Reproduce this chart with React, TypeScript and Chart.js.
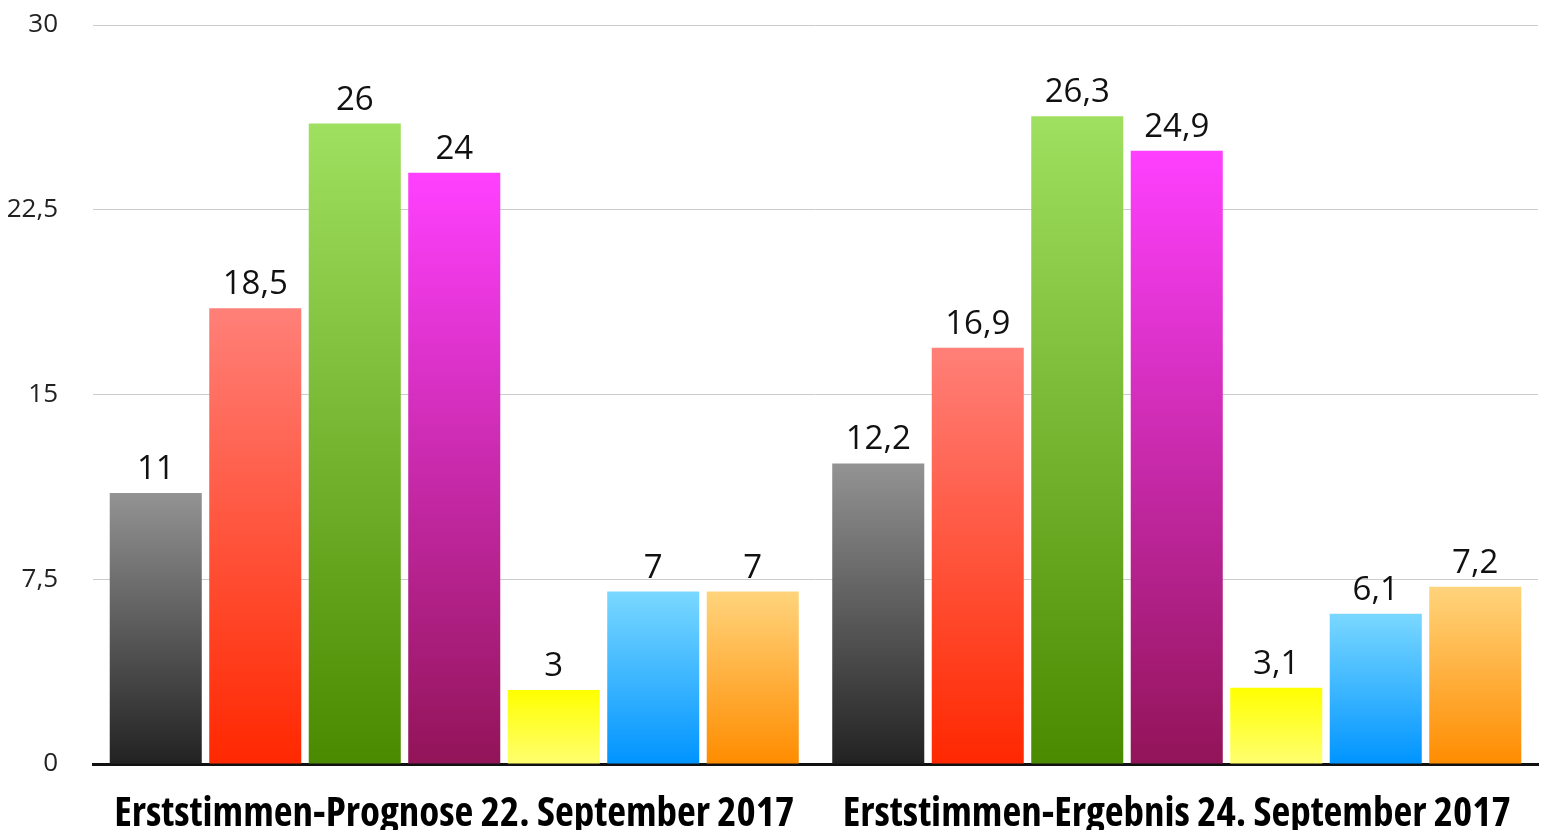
import React, { useEffect, useRef } from "react";
import { Chart, registerables } from "chart.js";

Chart.register(...registerables);

const categories = [
  "Erststimmen-Prognose 22. September 2017",
  "Erststimmen-Ergebnis 24. September 2017",
];
const seriesNames = ["CDU", "SPD", "Grüne", "Die Linke", "FDP", "AfD", "Andere"];
const seriesValues: number[][] = [
  [11, 12.2],
  [18.5, 16.9],
  [26, 26.3],
  [24, 24.9],
  [3, 3.1],
  [7, 6.1],
  [7, 7.2],
];
const gradientTop = ["#939393", "#ff8078", "#a0e060", "#ff40ff", "#ffff00", "#7ad8ff", "#ffd47c"];
const gradientBottom = ["#222222", "#ff2800", "#4a8a00", "#921458", "#ffff70", "#0094ff", "#ff8c00"];
const yTicks = [0, 7.5, 15, 22.5, 30];

const fmt = (v: number) => String(v).replace(".", ",");

const valueLabels = {
  id: "valueLabels",
  afterDatasetsDraw(chart: any) {
    const ctx = chart.ctx;
    ctx.save();
    ctx.font = "33px 'Open Sans'";
    ctx.fillStyle = "#111111";
    ctx.textAlign = "center";
    ctx.textBaseline = "alphabetic";
    chart.data.datasets.forEach((ds: any, i: number) => {
      const meta = chart.getDatasetMeta(i);
      meta.data.forEach((bar: any, j: number) => {
        ctx.fillText(fmt(ds.data[j]), bar.x, bar.y - 14);
      });
    });
    ctx.restore();
  },
};

export default function App() {
  const ref = useRef<HTMLCanvasElement>(null);
  useEffect(() => {
    if (!ref.current) return;
    const chart = new Chart(ref.current, {
      type: "bar",
      data: {
        labels: categories,
        datasets: seriesNames.map((name, i) => ({
          label: name,
          data: seriesValues[i],
          backgroundColor: (c: any) => {
            const ch = c.chart;
            const y = ch.scales && ch.scales.y;
            if (!ch.chartArea || !y || c.raw === undefined) return gradientTop[i];
            const top = y.getPixelForValue(c.raw);
            const bottom = y.getPixelForValue(0);
            if (!isFinite(top) || !isFinite(bottom) || top === bottom) return gradientTop[i];
            const g = ch.ctx.createLinearGradient(0, top, 0, bottom);
            g.addColorStop(0, gradientTop[i]);
            g.addColorStop(1, gradientBottom[i]);
            return g;
          },
          borderWidth: 0,
          categoryPercentage: 0.964,
          barPercentage: 0.925,
        })),
      },
      options: {
        animation: false,
        responsive: false,
        maintainAspectRatio: false,
        layout: { padding: { top: 25, right: 4, left: 0, bottom: 0 } },
        plugins: {
          legend: { display: false },
          tooltip: { enabled: false },
          title: { display: false },
        },
        scales: {
          x: {
            grid: { display: false },
            border: { display: true, color: "#111111", width: 3 },
            ticks: {
              color: "#000000",
              padding: 18,
              maxRotation: 0,
              minRotation: 0,
              autoSkip: false,
              font: { family: "'Open Sans'", size: 41, weight: "bold condensed" },
            },
            afterFit: (s: any) => {
              s.height = 66;
            },
          },
          y: {
            min: 0,
            max: 30,
            border: { display: false },
            grid: {
              color: "#cccccc",
              lineWidth: 1,
              drawTicks: true,
              tickLength: 35,
              tickColor: "rgba(0,0,0,0)",
            },
            afterBuildTicks: (s: any) => {
              s.ticks = yTicks.map((v) => ({ value: v }));
            },
            ticks: {
              color: "#222222",
              padding: 0,
              font: { family: "'Open Sans'", size: 26 },
              callback: (v: any) => fmt(Number(v)),
            },
            afterFit: (s: any) => {
              s.width = 93;
            },
          },
        },
      },
      plugins: [valueLabels],
    } as any);
    return () => chart.destroy();
  }, []);
  return (
    <div style={{ position: "fixed", left: 0, top: 0, width: 1542, height: 830, background: "#fff" }}>
      <canvas ref={ref} width={1542} height={830} style={{ width: 1542, height: 830 }} />
    </div>
  );
}
